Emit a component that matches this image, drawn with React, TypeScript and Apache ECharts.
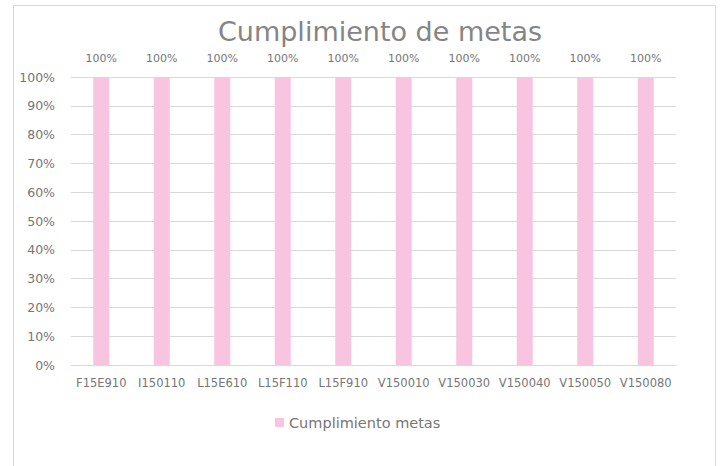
import React, { useEffect, useRef } from "react";
import * as echarts from "echarts";

const categories = ["F15E910", "I150110", "L15E610", "L15F110", "L15F910", "V150010", "V150030", "V150040", "V150050", "V150080"];
const values = [1, 1, 1, 1, 1, 1, 1, 1, 1, 1];
const seriesName = "Cumplimiento metas";
const titleText = "Cumplimiento de metas";

const FONT = "'DejaVu Sans', sans-serif";
const TEXT = "#767676";

export default function App() {
  const ref = useRef<HTMLDivElement>(null);
  useEffect(() => {
    document.body.style.margin = "0";
    const chart = echarts.init(ref.current!, null, { renderer: "svg" });
    chart.setOption({
      animation: false,
      backgroundColor: "#ffffff",
      graphic: [
        {
          type: "rect",
          shape: { x: 13.5, y: 5.5, width: 702, height: 480 },
          style: { fill: "none", stroke: "#d9d9d9", lineWidth: 1 },
          silent: true,
        },
        {
          type: "text",
          x: 380,
          y: 31,
          style: {
            text: titleText,
            font: `27px ${FONT}`,
            fill: "#858585",
            textAlign: "center",
            textVerticalAlign: "middle",
          },
        },
      ],
      grid: { left: 71, right: 48, top: 77, bottom: 101, containLabel: false },
      legend: {
        data: [seriesName],
        left: 270,
        top: 410,
        icon: "rect",
        itemWidth: 9,
        itemHeight: 9,
        textStyle: { fontFamily: FONT, fontSize: 14.5, color: TEXT },
      },
      xAxis: {
        type: "category",
        data: categories,
        axisLine: { lineStyle: { color: "#d9d9d9", width: 1 } },
        axisTick: { show: false },
        axisLabel: { interval: 0, fontFamily: FONT, fontSize: 11.5, color: TEXT, margin: 12 },
      },
      yAxis: {
        type: "value",
        min: 0,
        max: 1,
        interval: 0.1,
        axisLine: { show: false },
        axisTick: { show: false },
        splitLine: { lineStyle: { color: "#d9d9d9", width: 1 } },
        axisLabel: {
          fontFamily: FONT,
          fontSize: 12.5,
          color: TEXT,
          margin: 16,
          formatter: (v: number) => `${Math.round(v * 100)}%`,
        },
      },
      series: [
        {
          name: seriesName,
          type: "bar",
          data: values,
          barWidth: 16,
          itemStyle: { color: "#F8C4E0" },
          label: {
            show: true,
            position: "top",
            distance: 13,
            fontFamily: FONT,
            fontSize: 11,
            color: TEXT,
            formatter: (p: any) => `${Math.round(p.value * 100)}%`,
          },
        },
      ],
    });
    return () => chart.dispose();
  }, []);
  return <div ref={ref} style={{ position: "absolute", left: 0, top: 0, width: 724, height: 466 }} />;
}
